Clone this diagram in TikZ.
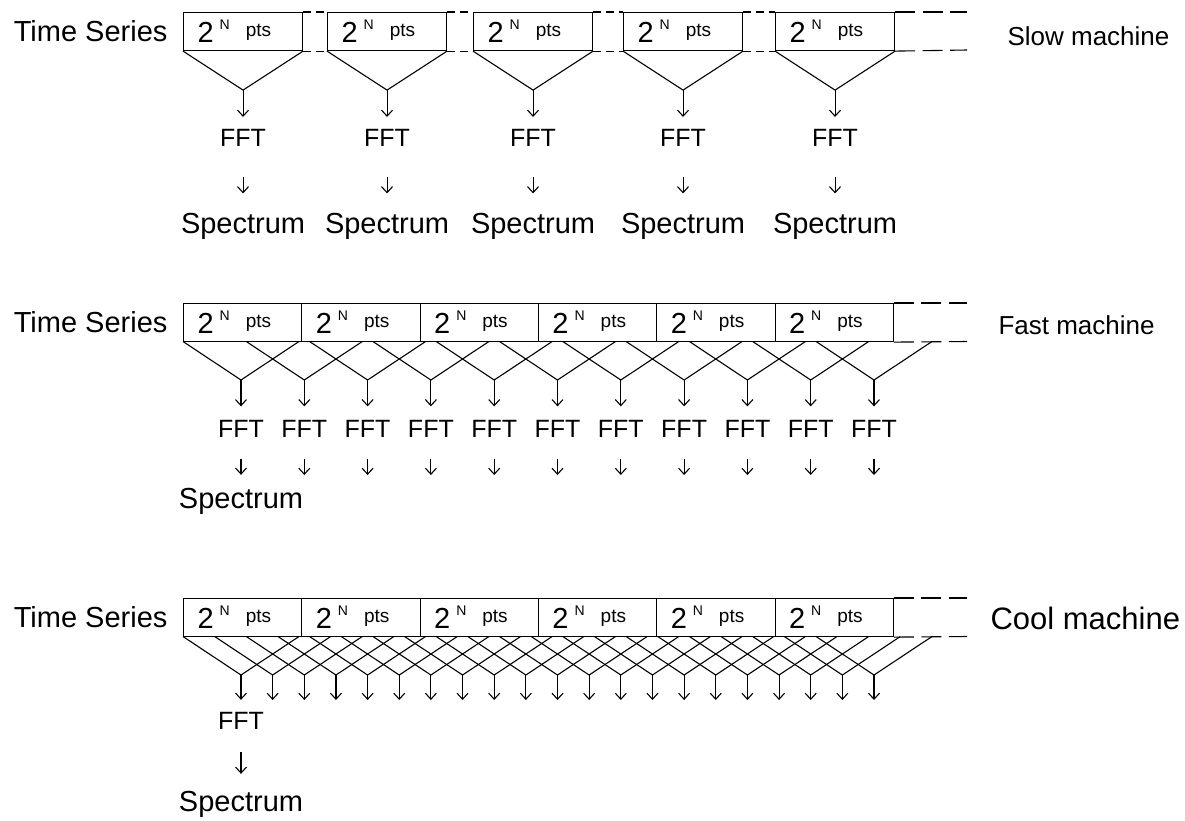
\documentclass[tikz,border=0pt]{standalone}
\usepackage{fontspec}
\setmainfont{Liberation Sans}
\usetikzlibrary{positioning,arrows.meta}

\newcommand{\fsz}[1]{\fontsize{#1}{#1}\selectfont}
\newcommand{\npts}{{\fsz{29}2}\hspace{6pt}\raisebox{13pt}{\fsz{14}N}\hspace{16pt}\raisebox{6pt}{\fsz{19}pts}}

\begin{document}
\begin{tikzpicture}[x=1pt,y=-1pt,line width=1.1pt,
        ptsbox/.style={draw,anchor=north west,minimum height=38pt,text width=91pt,
            inner xsep=14pt,inner ysep=0pt,align=left,text height=21pt,text depth=0pt},
        fft/.style={inner sep=0pt,font=\fsz{25}},
        spec/.style={inner sep=0pt,font=\fsz{29}},
        series/.style={inner sep=0pt,font=\fsz{29}},
        flow/.style={-{Straight Barb[length=6pt,width=11pt]}},
        gap/.style={dash pattern=on 8pt off 5pt},
        tail/.style={dash pattern=on 20pt off 7.5pt}]

    \useasboundingbox (0,0) rectangle (1185,820);

    % Slow machine
    \node[ptsbox] (s1) at (183,12) {\npts};
    \node[ptsbox] (s2) at (327,12) {\npts};
    \node[ptsbox] (s3) at (473,12) {\npts};
    \node[ptsbox] (s4) at (623,12) {\npts};
    \node[ptsbox] (s5) at (775,12) {\npts};
    \node[series,left=15pt of s1] (ts1) {Time Series};
    \node[inner sep=0pt,font=\fsz{26},anchor=west] (slow) at (1007,36) {Slow machine};

    \draw[gap] (s1.north east) -- (s2.north west);
    \draw[gap] (s1.south east) -- (s2.south west);
    \draw[gap] (s2.north east) -- (s3.north west);
    \draw[gap] (s2.south east) -- (s3.south west);
    \draw[gap] (s3.north east) -- (s4.north west);
    \draw[gap] (s3.south east) -- (s4.south west);
    \draw[gap] (s4.north east) -- (s5.north west);
    \draw[gap] (s4.south east) -- (s5.south west);
    \coordinate (stop) at (967,12);
    \coordinate (sbot) at (967,50);
    \draw[tail] (s5.north east) -- (stop);
    \draw[tail] (s5.south east) -- (sbot);

    \foreach \i in {1,...,5}{
        \coordinate (sv\i) at ([yshift=-39pt]s\i.south);
        \node[fft] (sf\i) at ([yshift=-48pt]sv\i) {FFT};
        \node[spec] (ss\i) at ([yshift=-136pt]sv\i) {Spectrum};
        \draw (s\i.south west) -- (sv\i) -- (s\i.south east);
        \draw[flow,shorten >=12pt] (sv\i) -- (sf\i.north);
        \draw[flow,shorten <=30pt,shorten >=19pt] (sf\i.south) -- (ss\i.north);
    }

    % Fast machine
    \foreach \i in {1,...,6}
        \node[ptsbox,text width=90.3pt] (f\i) at ({183+118.3*(\i-1)},303) {\npts};
    \node[series,left=15pt of f1] (ts2) {Time Series};
    \node[inner sep=0pt,font=\fsz{26},anchor=west] (fast) at (998,325) {Fast machine};

    \coordinate (ftop) at (967,303);
    \coordinate (fbot) at (967,341.5);
    \draw[tail] (f6.north east) -- (ftop);
    \draw[tail] (f6.south east) -- (fbot);

    \foreach \k in {0,...,10}{
        \coordinate (fa\k) at ({183+63.3*\k},341.5);
        \coordinate (fb\k) at ({299+63.3*\k},341.5);
        \coordinate (fv\k) at ({241+63.3*\k},380);
        \coordinate (fe\k) at ({241+63.3*\k},475);
        \node[fft] (ff\k) at ({241+63.3*\k},428.5) {FFT};
        \draw (fa\k) -- (fv\k) -- (fb\k);
        \draw[flow,shorten >=13pt] (fv\k) -- (ff\k.north);
    }
    \node[spec] (fs0) at (241,501.5) {Spectrum};
    \draw[flow,shorten <=21pt,shorten >=13pt] (ff0.south) -- (fs0.north);
    \foreach \k in {1,...,10}
        \draw[flow,shorten <=21pt] (ff\k.south) -- (fe\k);

    % Cool machine
    \foreach \i in {1,...,6}
        \node[ptsbox,text width=90.3pt] (c\i) at ({183+118.3*(\i-1)},598) {\npts};
    \node[series,left=15pt of c1] (ts3) {Time Series};
    \node[inner sep=0pt,font=\fsz{31},anchor=west] (cool) at (990,618) {Cool machine};

    \coordinate (ctop) at (967,598);
    \coordinate (cbot) at (967,636.5);
    \draw[tail] (c6.north east) -- (ctop);
    \draw[tail] (c6.south east) -- (cbot);

    \foreach \k in {0,...,20}{
        \coordinate (ca\k) at ({183+31.65*\k},636.5);
        \coordinate (cb\k) at ({299+31.65*\k},636.5);
        \coordinate (cv\k) at ({241+31.65*\k},675);
        \coordinate (ce\k) at ({241+31.65*\k},700);
        \draw (ca\k) -- (cv\k) -- (cb\k);
    }
    \node[fft] (cf0) at (241,721) {FFT};
    \node[spec] (cs0) at (241,804.5) {Spectrum};
    \draw[flow,shorten >=12pt] (cv0) -- (cf0.north);
    \foreach \k in {1,...,20}
        \draw[flow] (cv\k) -- (ce\k);
    \draw[flow,shorten <=22pt,shorten >=17pt] (cf0.south) -- (cs0.north);
\end{tikzpicture}
\end{document}
